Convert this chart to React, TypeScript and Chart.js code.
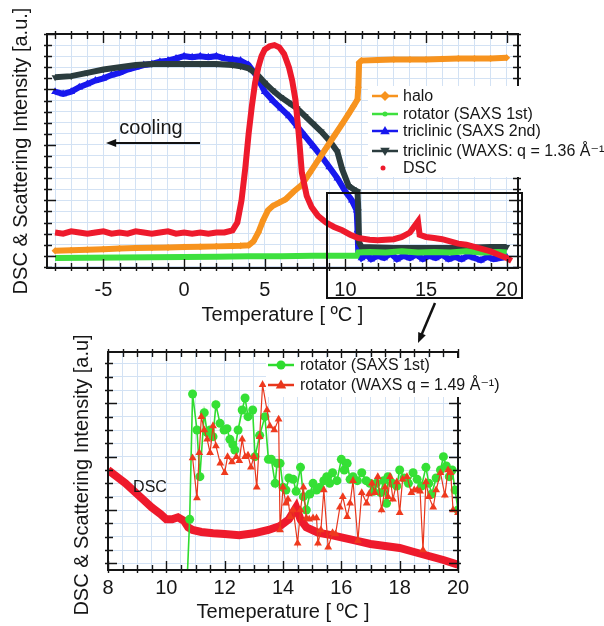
import React, { useEffect, useRef } from 'react';
import { Chart, registerables } from 'chart.js';

Chart.register(...registerables);

const FONT = '"Liberation Sans", Arial, Helvetica, "DejaVu Sans", sans-serif';
const TXT = '#161616';
const GRID = '#d3e2f4';

const ORANGE = '#f7931e';
const GREEN = '#3ee03e';
const BLUE = '#1818ee';
const DARK = '#2b3c3e';
const RED = '#ee1a2c';

// ---------- top panel data ----------
const topXGrid = [-8, -7, -6, -5, -4, -3, -2, -1, 0, 1, 2, 3, 4, 5, 6, 7, 8, 9, 10, 11, 12, 13, 14, 15, 16, 17, 18, 19, 20];
const topXLabels = [-5, 0, 5, 10, 15, 20];
const topYGrid = [-1, 0, 1, 2, 3, 4, 5, 6, 7, 8, 9, 10, 11, 12, 13, 14, 15, 16, 17, 18, 19, 20];
const topYMajor = [0, 5, 10, 15, 20];

const haloT = [-8, -7, -6, -5, -4, -3, -2, -1, 0, 1, 2, 3, 3.5, 4, 4.3, 4.6, 4.9, 5.2, 5.5, 5.9, 6.3, 6.8, 7.3, 7.8, 8.3, 8.8, 9.3, 9.8, 10.2, 10.5, 10.75, 10.8, 10.85, 11, 12, 13, 14, 15, 16, 17, 18, 19, 20];
const haloI = [0.45, 0.5, 0.55, 0.6, 0.65, 0.7, 0.72, 0.75, 0.8, 0.82, 0.85, 0.88, 0.9, 0.95, 1.3, 2.1, 3.2, 4.1, 4.5, 4.8, 5.1, 5.8, 6.4, 7.5, 8.6, 9.7, 10.8, 11.9, 12.8, 13.5, 14.1, 15.2, 17.4, 17.6, 17.65, 17.7, 17.7, 17.7, 17.75, 17.8, 17.8, 17.8, 17.85];

const rotT = [-8, -6, -4, -2, 0, 2, 4, 6, 8, 10, 10.7, 10.8, 11.5, 12.5, 13.5, 14.5, 15.5, 16.5, 17.5, 18.5, 19.5, 20];
const rotI = [-0.2, -0.18, -0.15, -0.12, -0.1, -0.08, -0.05, -0.03, 0, 0, 0, 0.3, 0.35, 0.3, 0.4, 0.3, 0.35, 0.3, 0.4, 0.3, 0.35, 0.3];

const blueT = [-8, -7.5, -7, -6.5, -6, -5.5, -5, -4.5, -4, -3.5, -3, -2.5, -2, -1.5, -1, -0.5, 0, 0.5, 1, 1.5, 2, 2.5, 3, 3.5, 4, 4.5, 5, 5.5, 6, 6.5, 7, 7.5, 8, 8.5, 9, 9.5, 10, 10.4, 10.7, 10.75, 10.8, 11, 11.3, 11.6, 12, 12.4, 12.8, 13.2, 13.6, 14, 14.4, 14.8, 15.2, 15.6, 16, 16.4, 16.8, 17.2, 17.6, 18, 18.4, 18.8, 19.2, 19.6, 20];
const blueI = [14.8, 14.6, 14.8, 15.2, 15.5, 15.8, 16.0, 16.3, 16.5, 16.8, 17.0, 17.2, 17.3, 17.5, 17.6, 17.8, 18.0, 17.9, 18.0, 17.9, 18.0, 17.8, 17.7, 17.6, 17.2, 16.2, 14.8, 14.0, 13.3, 12.6, 11.7, 10.8, 9.9, 9.0, 8.0, 7.0, 5.8, 5.0, 4.1, 2.3, 0.2, -0.2, 0.1, -0.3, 0.0, -0.2, 0.2, -0.3, 0.0, -0.2, 0.1, -0.3, 0.0, -0.2, 0.1, -0.3, -0.1, -0.3, 0.0, -0.2, -0.4, -0.1, -0.3, -0.2, -0.1];

const darkT = [-8, -7, -6, -5, -4, -3, -2, -1, 0, 1, 2, 3, 3.5, 4, 4.5, 5, 5.5, 6, 6.5, 7, 7.5, 8, 8.5, 9, 9.5, 9.8, 10.2, 10.5, 10.75, 10.8, 10.85, 11, 12, 13, 14, 15, 16, 17, 18, 19, 20];
const darkI = [16.1, 16.2, 16.5, 16.8, 17.0, 17.2, 17.3, 17.3, 17.3, 17.3, 17.3, 17.2, 17.1, 16.9, 16.4, 15.6, 14.9, 14.3, 13.8, 13.3, 12.6, 11.9, 11.2, 10.4, 9.4, 7.8, 6.3, 6.0, 5.8, 4.0, 1.2, 0.8, 0.75, 0.7, 0.7, 0.7, 0.7, 0.7, 0.75, 0.8, 0.8];

const dscT = [-8, -7.5, -7, -6.5, -6, -5.5, -5, -4.5, -4, -3.5, -3, -2.5, -2, -1.5, -1, -0.5, 0, 0.5, 1, 1.5, 2, 2.5, 3, 3.3, 3.56, 3.8, 4, 4.2, 4.4, 4.6, 4.8, 5, 5.3, 5.6, 5.9, 6.2, 6.5, 6.7, 6.9, 7.1, 7.3, 7.6, 7.9, 8.3, 8.8, 9.3, 9.8, 10.3, 10.8, 11.5, 12, 12.5, 13, 13.5, 14, 14.3, 14.5, 14.6, 15, 15.5, 16, 16.5, 17, 17.5, 18, 18.5, 19, 19.5, 20, 20.3];
const dscI = [2.1, 2.0, 2.2, 2.1, 2.0, 2.1, 2.2, 2.0, 2.1, 2.0, 2.2, 2.1, 2.0, 2.1, 2.2, 2.0, 2.1, 2.0, 2.1, 2.0, 2.1, 2.1, 2.3, 3.0, 5.0, 8.0, 11.0, 13.5, 15.6, 17.0, 18.0, 18.6, 18.9, 19.0, 18.8, 18.2, 17.0, 15.8, 14.1, 11.1, 7.5, 5.4, 4.4, 3.6, 3.0, 2.6, 2.3, 1.9, 1.6, 1.45, 1.4, 1.45, 1.5, 1.7, 2.1, 2.7, 3.1, 1.9, 1.7, 1.6, 1.5, 1.3, 1.1, 1.0, 0.8, 0.6, 0.4, 0.1, -0.2, -0.45];

// ---------- bottom panel data ----------
const botXGrid = [8, 8.5, 9, 9.5, 10, 10.5, 11, 11.5, 12, 12.5, 13, 13.5, 14, 14.5, 15, 15.5, 16, 16.5, 17, 17.5, 18, 18.5, 19, 19.5, 20];
const botXLabels = [8, 10, 12, 14, 16, 18, 20];
const botYGrid = [0, 1, 2, 3, 4, 5, 6, 7, 8, 9, 10, 11, 12, 13, 14, 15];
const botYMajor = [0, 4, 8, 12];

const bDscT = [8, 8.3, 8.6, 8.9, 9.2, 9.5, 9.8, 10, 10.2, 10.4, 10.6, 10.75, 10.9, 11.2, 11.6, 12, 12.5, 13, 13.5, 13.9, 14.2, 14.45, 14.6, 14.8, 15.2, 15.7, 16, 16.5, 17, 17.5, 18, 18.5, 19, 19.5, 20];
const bDscI = [7.0, 6.5, 6.0, 5.4, 4.8, 4.2, 3.7, 3.3, 3.3, 3.45, 3.2, 2.7, 2.5, 2.35, 2.25, 2.2, 2.1, 2.25, 2.5, 2.8, 3.3, 4.2, 3.3, 2.7, 2.3, 2.1, 1.95, 1.7, 1.45, 1.3, 1.15, 0.85, 0.55, 0.25, -0.1];

const satT = [10.7, 10.8, 10.9, 11.05, 11.15, 11.3, 11.4, 11.5, 11.6, 11.7, 11.84, 11.98, 12.08, 12.18, 12.28, 12.35, 12.46, 12.6, 12.7, 12.8, 12.96, 13.04, 13.2, 13.38, 13.5, 13.6, 13.73, 13.8, 13.9, 14.0, 14.1, 14.2, 14.35, 14.45, 14.6, 14.7, 14.8, 14.92, 15.03, 15.15, 15.27, 15.4, 15.5, 15.6, 15.7, 15.85, 16.0, 16.1, 16.2, 16.3, 16.4, 16.55, 16.7, 16.85, 16.98, 17.1, 17.2, 17.35, 17.45, 17.55, 17.6, 17.75, 17.9, 18.0, 18.15, 18.3, 18.46, 18.6, 18.75, 18.9, 19.0, 19.1, 19.25, 19.4, 19.5, 19.6, 19.7, 19.8, 19.9, 20.0];
const satI = [-2, 3.3, 12.7, 10.0, 6.5, 11.3, 9.8, 10.0, 9.5, 11.9, 10.5, 10.0, 10.1, 9.3, 8.9, 8.5, 10.0, 11.5, 12.4, 11.0, 11.5, 8.0, 9.6, 11.0, 7.8, 7.8, 6.0, 7.5, 7.5, 5.7, 5.5, 6.4, 6.3, 5.4, 7.2, 5.0, 4.0, 5.2, 6.0, 5.5, 5.7, 6.2, 6.5, 6.0, 6.8, 6.2, 7.8, 7.0, 7.5, 6.3, 6.5, 6.2, 6.8, 6.2, 6.0, 5.4, 6.0, 5.3, 6.2, 4.5, 6.5, 6.0, 5.8, 7.0, 6.4, 6.0, 6.8, 6.3, 5.8, 7.2, 6.0, 5.2, 6.4, 7.0, 8.0, 7.3, 6.5, 7.0, 5.5, 4.0];

const waxT = [10.9, 11.05, 11.13, 11.2, 11.3, 11.4, 11.5, 11.6, 11.7, 11.85, 12.0, 12.1, 12.25, 12.4, 12.5, 12.6, 12.7, 12.8, 12.9, 13.0, 13.1, 13.2, 13.3, 13.45, 13.55, 13.7, 13.85, 13.9, 14.0, 14.1, 14.17, 14.25, 14.35, 14.5, 14.6, 14.7, 14.8, 14.9, 15.03, 15.15, 15.2, 15.3, 15.4, 15.55, 15.7, 15.8, 15.95, 16.05, 16.2, 16.3, 16.4, 16.57, 16.7, 16.87, 16.95, 17.05, 17.15, 17.25, 17.38, 17.5, 17.6, 17.67, 17.77, 17.9, 18.0, 18.1, 18.25, 18.4, 18.5, 18.6, 18.7, 18.8, 18.9, 19.0, 19.15, 19.25, 19.4, 19.55, 19.66, 19.75, 19.83, 20.0];
const waxI = [7.9, 4.9, 8.3, 11.0, 10.0, 9.3, 8.3, 10.3, 8.8, 7.5, 6.8, 8.0, 7.6, 8.0, 7.7, 9.3, 8.0, 8.1, 7.2, 8.0, 5.7, 9.5, 13.4, 11.5, 10.3, 10.0, 10.8, 2.5, 5.7, 4.5, 4.8, 3.5, 4.0, 1.5, 4.0, 5.7, 3.4, 3.3, 3.4, 3.4, 1.5, 2.5, 5.5, 1.2, 2.3, 2.2, 4.2, 5.0, 3.5, 4.5, 6.2, 1.7, 5.3, 4.5, 5.2, 6.0, 5.3, 6.5, 4.0, 5.7, 5.0, 6.5, 4.8, 6.1, 3.8, 6.3, 6.5, 5.3, 5.5, 5.5, 5.4, 1.0, 6.1, 5.0, 4.2, 5.5, 6.8, 5.1, 7.0, 6.8, 4.0, 3.8];

const zip = (xs: number[], ys: number[]) => xs.map((x, i) => ({ x, y: ys[i] }));

type Marker = 'diamond' | 'circle' | 'triangle' | 'triangleDown' | 'dot';

function drawMarker(ctx: CanvasRenderingContext2D, m: Marker, x: number, y: number, r: number, color: string) {
  ctx.fillStyle = color;
  ctx.beginPath();
  if (m === 'circle' || m === 'dot') ctx.arc(x, y, r, 0, Math.PI * 2);
  else if (m === 'diamond') {
    ctx.moveTo(x, y - r); ctx.lineTo(x + r, y); ctx.lineTo(x, y + r); ctx.lineTo(x - r, y); ctx.closePath();
  } else if (m === 'triangle') {
    ctx.moveTo(x, y - r); ctx.lineTo(x + r * 0.95, y + r * 0.65); ctx.lineTo(x - r * 0.95, y + r * 0.65); ctx.closePath();
  } else {
    ctx.moveTo(x, y + r); ctx.lineTo(x + r * 0.95, y - r * 0.65); ctx.lineTo(x - r * 0.95, y - r * 0.65); ctx.closePath();
  }
  ctx.fill();
}

function drawArrow(ctx: CanvasRenderingContext2D, x1: number, y1: number, x2: number, y2: number, head: number, w: number) {
  const ang = Math.atan2(y2 - y1, x2 - x1);
  ctx.save();
  ctx.strokeStyle = '#111';
  ctx.fillStyle = '#111';
  ctx.lineWidth = w;
  ctx.beginPath();
  ctx.moveTo(x1, y1);
  ctx.lineTo(x2 - Math.cos(ang) * head * 0.8, y2 - Math.sin(ang) * head * 0.8);
  ctx.stroke();
  ctx.beginPath();
  ctx.moveTo(x2, y2);
  ctx.lineTo(x2 - head * Math.cos(ang - 0.38), y2 - head * Math.sin(ang - 0.38));
  ctx.lineTo(x2 - head * Math.cos(ang + 0.38), y2 - head * Math.sin(ang + 0.38));
  ctx.closePath();
  ctx.fill();
  ctx.restore();
}

interface LegendItem { label: string; color: string; marker: Marker; r: number; line: boolean; y: number; }

function drawLegend(ctx: CanvasRenderingContext2D, items: LegendItem[], x0: number, x1: number, tx: number, box: number[]) {
  ctx.save();
  ctx.fillStyle = '#fff';
  ctx.fillRect(box[0], box[1], box[2], box[3]);
  for (const it of items) {
    if (it.line) {
      ctx.strokeStyle = it.color;
      ctx.lineWidth = 2.5;
      ctx.beginPath();
      ctx.moveTo(x0, it.y);
      ctx.lineTo(x1, it.y);
      ctx.stroke();
      drawMarker(ctx, it.marker, (x0 + x1) / 2, it.y, it.r, it.color);
    } else {
      drawMarker(ctx, it.marker, x0 + 11, it.y, it.r, it.color);
    }
    ctx.fillStyle = TXT;
    ctx.font = `16px ${FONT}`;
    ctx.textAlign = 'left';
    ctx.textBaseline = 'middle';
    ctx.fillText(it.label, tx, it.y + 1);
  }
  ctx.restore();
}

function framePlugin(id: string, xt: number[], xMajor: number[], yt: number[], yMajor: number[], extra: (c: any) => void) {
  return {
    id,
    afterDraw(chart: any) {
      const { ctx, chartArea: a, scales } = chart;
      ctx.save();
      ctx.strokeStyle = '#151515';
      ctx.lineWidth = 1.4;
      ctx.beginPath();
      for (const v of xt) {
        const L = xMajor.includes(v) ? 9 : 5;
        const p = Math.round(scales.x.getPixelForValue(v)) + 0.5;
        ctx.moveTo(p, a.top - 3); ctx.lineTo(p, a.top + L);
        ctx.moveTo(p, a.bottom + 3); ctx.lineTo(p, a.bottom - L);
      }
      for (const v of yt) {
        const L = yMajor.includes(v) ? 9 : 5;
        const p = Math.round(scales.y.getPixelForValue(v)) + 0.5;
        ctx.moveTo(a.left - 3, p); ctx.lineTo(a.left + L, p);
        ctx.moveTo(a.right + 3, p); ctx.lineTo(a.right - L, p);
      }
      ctx.stroke();
      ctx.lineWidth = 2;
      ctx.strokeRect(a.left, a.top, a.right - a.left, a.bottom - a.top);
      ctx.restore();
      extra(chart);
    },
  };
}

const axisFont = { family: FONT, size: 20 };

export default function App() {
  const topRef = useRef<HTMLCanvasElement>(null);
  const botRef = useRef<HTMLCanvasElement>(null);

  useEffect(() => {
    const topExtra = (chart: any) => {
      const ctx: CanvasRenderingContext2D = chart.ctx;
      drawLegend(ctx, [
        { label: 'halo', color: ORANGE, marker: 'diamond', r: 5, line: true, y: 96 },
        { label: 'rotator (SAXS 1st)', color: GREEN, marker: 'circle', r: 2.5, line: true, y: 114 },
        { label: 'triclinic (SAXS 2nd)', color: BLUE, marker: 'triangle', r: 5, line: true, y: 131 },
        { label: 'triclinic (WAXS: q = 1.36 Å⁻¹)', color: DARK, marker: 'triangleDown', r: 5, line: true, y: 151 },
        { label: 'DSC', color: RED, marker: 'dot', r: 2.5, line: false, y: 168 },
      ], 372, 398, 403, [368, 86, 236, 91]);
      ctx.save();
      ctx.fillStyle = TXT;
      ctx.font = `20px ${FONT}`;
      ctx.textAlign = 'center';
      ctx.textBaseline = 'middle';
      ctx.fillText('cooling', 151, 128);
      ctx.restore();
      drawArrow(ctx, 200, 143, 106, 143, 11, 2);
      ctx.save();
      ctx.strokeStyle = '#111';
      ctx.lineWidth = 2;
      ctx.strokeRect(327, 193, 195, 105);
      ctx.restore();
      drawArrow(ctx, 435, 303, 418, 343, 11, 2.5);
    };

    const botExtra = (chart: any) => {
      const ctx: CanvasRenderingContext2D = chart.ctx;
      drawLegend(ctx, [
        { label: 'rotator (SAXS 1st)', color: '#2fdc2f', marker: 'circle', r: 4.5, line: true, y: 35 },
        { label: 'rotator (WAXS q = 1.49 Å⁻¹)', color: '#e8361c', marker: 'triangle', r: 5.5, line: true, y: 55 },
      ], 268, 294, 300, [266, 28, 238, 39]);
      ctx.save();
      ctx.fillStyle = TXT;
      ctx.font = `16px ${FONT}`;
      ctx.textAlign = 'center';
      ctx.textBaseline = 'middle';
      ctx.fillText('DSC', 150, 158);
      ctx.translate(82, 145);
      ctx.rotate(-Math.PI / 2);
      ctx.font = `20px ${FONT}`;
      ctx.fillText('DSC & Scattering Intensity [a.u]', 0, 0);
      ctx.restore();
    };

    const top = new Chart(topRef.current!, {
      type: 'line',
      data: {
        datasets: [
          { label: 'DSC', data: zip(dscT, dscI), borderColor: RED, backgroundColor: RED, borderWidth: 6, pointRadius: 0 },
          { label: 'halo', data: zip(haloT, haloI), borderColor: ORANGE, backgroundColor: ORANGE, borderWidth: 6, pointStyle: 'rectRot', pointRadius: 3.5, pointBorderWidth: 0 },
          { label: 'rotator (SAXS 1st)', data: zip(rotT, rotI), borderColor: GREEN, backgroundColor: GREEN, borderWidth: 6, pointRadius: 0 },
          { label: 'triclinic (WAXS: q = 1.36 Å⁻¹)', data: zip(darkT, darkI), borderColor: DARK, backgroundColor: DARK, borderWidth: 6, pointStyle: 'triangle', pointRotation: 180, pointRadius: 4, pointBorderWidth: 0 },
          { label: 'triclinic (SAXS 2nd)', data: zip(blueT, blueI), borderColor: BLUE, backgroundColor: BLUE, borderWidth: 6, pointStyle: 'triangle', pointRadius: 4.5, pointBorderWidth: 0 },
        ],
      },
      options: {
        responsive: false,
        animation: false,
        events: [],
        layout: { padding: { top: 34, right: 86, bottom: 15, left: 0 } },
        plugins: { legend: { display: false }, tooltip: { enabled: false } },
        scales: {
          x: {
            type: 'linear', min: -8.5, max: 20.7,
            afterBuildTicks: (s: any) => { s.ticks = topXGrid.map((v) => ({ value: v })); },
            afterFit: (s: any) => { s.height = 62; },
            grid: { color: GRID, lineWidth: 1, drawTicks: false },
            border: { display: false },
            ticks: { autoSkip: false, maxRotation: 0, padding: 10, color: TXT, font: axisFont, callback: (v: any) => (topXLabels.includes(v) ? String(v) : '') },
            title: { display: true, text: 'Temperature [ ºC ]', color: TXT, font: axisFont, padding: { top: 0, bottom: 3 } },
          },
          y: {
            type: 'linear', min: -1.1, max: 20,
            afterBuildTicks: (s: any) => { s.ticks = topYGrid.map((v) => ({ value: v })); },
            afterFit: (s: any) => { s.width = 47; },
            grid: { color: GRID, lineWidth: 1, drawTicks: false },
            border: { display: false },
            ticks: { display: false, autoSkip: false },
            title: { display: true, text: 'DSC & Scattering Intensity [a.u.]', color: TXT, font: axisFont, padding: { top: 9, bottom: 0 } },
          },
        },
      } as any,
      plugins: [framePlugin('topFrame', topXGrid, topXLabels, topYGrid, topYMajor, topExtra)],
    });

    const bot = new Chart(botRef.current!, {
      type: 'line',
      data: {
        datasets: [
          { label: 'rotator (WAXS q = 1.49 Å⁻¹)', data: zip(waxT, waxI), borderColor: '#e8361c', backgroundColor: '#ef3a1e', borderWidth: 1.2, pointStyle: 'triangle', pointRadius: 4.5, pointBorderWidth: 0 },
          { label: 'rotator (SAXS 1st)', data: zip(satT, satI), borderColor: '#2fdc2f', backgroundColor: '#35e035', borderWidth: 1.6, pointStyle: 'circle', pointRadius: 4.5, pointBorderWidth: 0 },
          { label: 'DSC', data: zip(bDscT, bDscI), borderColor: RED, backgroundColor: RED, borderWidth: 8, pointRadius: 0 },
        ],
      },
      options: {
        responsive: false,
        animation: false,
        events: [],
        layout: { padding: { top: 22, right: 146, bottom: 0, left: 0 } },
        plugins: { legend: { display: false }, tooltip: { enabled: false } },
        scales: {
          x: {
            type: 'linear', min: 8, max: 20,
            afterBuildTicks: (s: any) => { s.ticks = botXGrid.map((v) => ({ value: v })); },
            afterFit: (s: any) => { s.height = 56; },
            grid: { color: GRID, lineWidth: 1, drawTicks: false },
            border: { display: false },
            ticks: { autoSkip: false, maxRotation: 0, padding: 6, color: TXT, font: axisFont, callback: (v: any) => (botXLabels.includes(v) ? String(v) : '') },
            title: { display: true, text: 'Temeperature [ ºC ]', color: TXT, font: axisFont, padding: { top: 0, bottom: 2 } },
          },
          y: {
            type: 'linear', min: -0.5, max: 15.85,
            afterBuildTicks: (s: any) => { s.ticks = botYGrid.map((v) => ({ value: v })); },
            afterFit: (s: any) => { s.width = 108; },
            grid: { color: GRID, lineWidth: 1, drawTicks: false },
            border: { display: false },
            ticks: { display: false, autoSkip: false },
            title: { display: false },
          },
        },
      } as any,
      plugins: [framePlugin('botFrame', botXGrid, botXLabels, botYGrid, botYMajor, botExtra)],
    });

    return () => {
      top.destroy();
      bot.destroy();
    };
  }, []);

  return (
    <div style={{ position: 'absolute', left: 0, top: 0, width: 604, height: 626, background: '#fff', overflow: 'hidden' }}>
      <canvas ref={topRef} width={604} height={345} style={{ position: 'absolute', left: 0, top: 0, width: 604, height: 345 }} />
      <canvas ref={botRef} width={604} height={296} style={{ position: 'absolute', left: 0, top: 330, width: 604, height: 296 }} />
    </div>
  );
}
